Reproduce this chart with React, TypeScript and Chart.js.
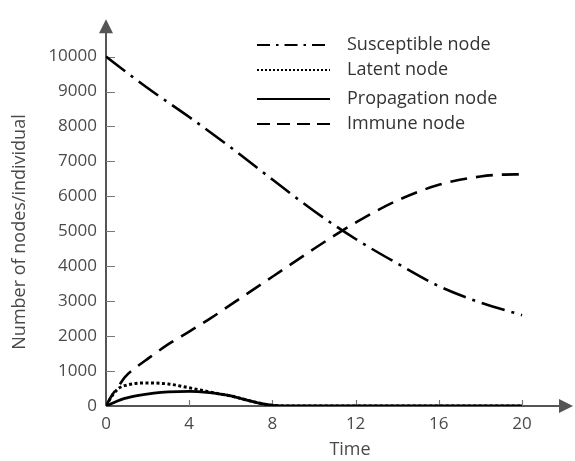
import React, { useEffect, useRef } from "react";
import { Chart, registerables } from "chart.js";

Chart.register(...registerables);

// ---- data ----
const xTickValues = [0, 4, 8, 12, 16, 20];
const yTickValues = [0, 1000, 2000, 3000, 4000, 5000, 6000, 7000, 8000, 9000, 10000];

const seriesNames = ["Susceptible node", "Latent node", "Propagation node", "Immune node"];

const susceptibleT = [0, 2, 4, 6, 8, 10, 12, 14, 16, 18, 20];
const susceptibleV = [10000, 9100, 8270, 7400, 6480, 5580, 4780, 4080, 3430, 2960, 2600];

const latentT = [0, 0.3, 0.6, 1, 1.5, 2, 3, 4, 5, 5.5, 6, 6.7, 7.3, 8, 9, 12, 16, 20];
const latentV = [0, 300, 500, 600, 650, 660, 630, 520, 400, 340, 290, 180, 90, 20, 0, 0, 0, 0];

const propagationT = [0, 0.5, 0.9, 1.5, 2.3, 3, 4, 5, 5.5, 6, 6.7, 7.3, 8, 9, 12, 16, 20];
const propagationV = [0, 130, 220, 300, 370, 405, 420, 380, 340, 290, 180, 90, 20, 0, 0, 0, 0];

const immuneT = [0, 0.3, 0.6, 0.9, 1.5, 2, 3, 4, 5, 6, 8, 10, 11.3, 12, 14, 16, 18, 19, 20];
const immuneV = [0, 320, 560, 820, 1130, 1350, 1770, 2130, 2500, 2900, 3700, 4500, 5000, 5250, 5880, 6330, 6570, 6620, 6630];

const FONT = '"Open Sans", "DejaVu Sans", sans-serif';
const AXIS_COLOR = "#555";
const TEXT_COLOR = "#4a4a4a";

const dashes = {
  susceptible: [24, 7, 3, 7],
  latent: [3, 2.5],
  propagation: [],
  immune: [17, 9],
};

const legendDashes = [[13, 6, 2.5, 6], [2, 2], [], [13, 7]];

const toPoints = (t: number[], v: number[]) => t.map((x, i) => ({ x, y: v[i] }));

const decorPlugin = {
  id: "decor",
  beforeDatasetsDraw(chart: any) {
    const { ctx, chartArea, scales } = chart;
    const { left, right, top, bottom } = chartArea;
    const x = scales.x;
    const y = scales.y;
    ctx.save();
    ctx.strokeStyle = AXIS_COLOR;
    ctx.fillStyle = AXIS_COLOR;
    ctx.lineWidth = 2;
    ctx.setLineDash([]);
    ctx.beginPath();
    ctx.moveTo(left, bottom);
    ctx.lineTo(right - 10, bottom);
    ctx.moveTo(left, bottom);
    ctx.lineTo(left, top + 10);
    ctx.stroke();
    ctx.beginPath();
    ctx.moveTo(right, bottom);
    ctx.lineTo(right - 14, bottom - 7);
    ctx.lineTo(right - 14, bottom + 7);
    ctx.closePath();
    ctx.fill();
    ctx.beginPath();
    ctx.moveTo(left, top);
    ctx.lineTo(left - 7, top + 14);
    ctx.lineTo(left + 7, top + 14);
    ctx.closePath();
    ctx.fill();
    ctx.lineWidth = 1.2;
    ctx.strokeStyle = "#777";
    ctx.beginPath();
    yTickValues.forEach((v) => {
      if (v === 0) return;
      const py = Math.round(y.getPixelForValue(v)) + 0.5;
      ctx.moveTo(left, py);
      ctx.lineTo(left + 9, py);
    });
    xTickValues.forEach((v) => {
      if (v === 0) return;
      const px = Math.round(x.getPixelForValue(v)) + 0.5;
      ctx.moveTo(px, bottom);
      ctx.lineTo(px, bottom - 6);
    });
    ctx.stroke();
    ctx.restore();
  },
  afterDraw(chart: any) {
    const { ctx } = chart;
    ctx.save();
    ctx.fillStyle = TEXT_COLOR;
    ctx.font = `18px ${FONT}`;
    ctx.textAlign = "center";
    ctx.textBaseline = "middle";
    ctx.fillText("Time", 350, 450);
    ctx.translate(20, 232);
    ctx.rotate(-Math.PI / 2);
    ctx.fillText("Number of nodes/individual", 0, 0);
    ctx.restore();

    ctx.save();
    const rowsY = [45, 70, 99, 124];
    ctx.strokeStyle = "#000";
    ctx.fillStyle = "#333";
    ctx.font = `18px ${FONT}`;
    ctx.textAlign = "left";
    ctx.textBaseline = "middle";
    seriesNames.forEach((name, i) => {
      ctx.lineWidth = i === 1 ? 2 : 2.2;
      ctx.setLineDash(legendDashes[i]);
      ctx.beginPath();
      ctx.moveTo(257, rowsY[i]);
      ctx.lineTo(330, rowsY[i]);
      ctx.stroke();
      ctx.setLineDash([]);
      ctx.fillText(name, 347, rowsY[i]);
    });
    ctx.restore();
  },
};

export default function App() {
  const canvasRef = useRef<HTMLCanvasElement | null>(null);

  useEffect(() => {
    const canvas = canvasRef.current;
    if (!canvas) return;
    const lineCommon = {
      borderColor: "#000",
      backgroundColor: "#000",
      borderWidth: 2.6,
      pointRadius: 0,
      fill: false,
      cubicInterpolationMode: "monotone" as const,
    };
    const chart = new Chart(canvas, {
      type: "line",
      data: {
        datasets: [
          { ...lineCommon, label: seriesNames[0], data: toPoints(susceptibleT, susceptibleV), borderDash: dashes.susceptible },
          { ...lineCommon, label: seriesNames[1], data: toPoints(latentT, latentV), borderDash: dashes.latent, borderWidth: 3 },
          { ...lineCommon, label: seriesNames[2], data: toPoints(propagationT, propagationV), borderDash: dashes.propagation, borderWidth: 2.8 },
          { ...lineCommon, label: seriesNames[3], data: toPoints(immuneT, immuneV), borderDash: dashes.immune },
        ],
      },
      options: {
        animation: false,
        responsive: false,
        devicePixelRatio: 1,
        layout: { padding: { left: 10, right: 2, top: 13, bottom: 2 } },
        plugins: { legend: { display: false }, tooltip: { enabled: false } },
        scales: {
          x: {
            type: "linear",
            min: 0,
            max: 22.45,
            afterBuildTicks: (s: any) => {
              s.ticks = xTickValues.map((v) => ({ value: v }));
            },
            afterFit: (s: any) => {
              s.height = 53;
            },
            grid: { display: false, drawTicks: false },
            border: { display: false },
            ticks: {
              color: TEXT_COLOR,
              font: { family: FONT, size: 17 },
              padding: 8,
              maxRotation: 0,
              autoSkip: false,
              callback: (v: any) => String(v),
            },
          },
          y: {
            type: "linear",
            min: 0,
            max: 11070,
            afterBuildTicks: (s: any) => {
              s.ticks = yTickValues.map((v) => ({ value: v }));
            },
            afterFit: (s: any) => {
              s.width = 96;
            },
            grid: { display: false, drawTicks: false },
            border: { display: false },
            ticks: {
              color: TEXT_COLOR,
              font: { family: FONT, size: 17 },
              padding: 9,
              autoSkip: false,
              callback: (v: any) => String(v),
            },
          },
        },
      },
      plugins: [decorPlugin],
    });
    return () => chart.destroy();
  }, []);

  return (
    <div style={{ position: "fixed", left: 0, top: 0, width: 575, height: 461, background: "#fff" }}>
      <canvas ref={canvasRef} width={575} height={461} style={{ display: "block" }} />
    </div>
  );
}
